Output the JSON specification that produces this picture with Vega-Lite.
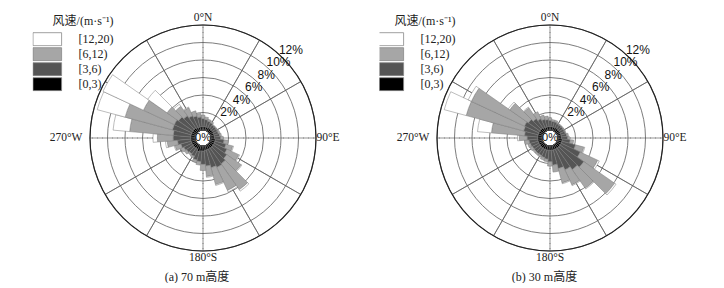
{
"$schema": "https://vega.github.io/schema/vega-lite/v6.json",
"background": "white",
"padding": {"left": 29.5, "top": 11, "right": 0, "bottom": 0},
"spacing": 0,
"config": {"view": {"stroke": null}, "font": "Liberation Serif"},
"datasets": {
"h70": [
{"dir":0,"s1":0.4,"s2":0.9,"s3":0.4,"s4":0},
{"dir":10,"s1":0.4,"s2":0.8,"s3":0.3,"s4":0},
{"dir":20,"s1":0.4,"s2":0.7,"s3":0.2,"s4":0},
{"dir":30,"s1":0.4,"s2":0.6,"s3":0.2,"s4":0},
{"dir":40,"s1":0.4,"s2":0.5,"s3":0.1,"s4":0},
{"dir":50,"s1":0.4,"s2":0.5,"s3":0.1,"s4":0},
{"dir":60,"s1":0.4,"s2":0.5,"s3":0.1,"s4":0},
{"dir":70,"s1":0.4,"s2":0.5,"s3":0.2,"s4":0},
{"dir":80,"s1":0.4,"s2":0.6,"s3":0.2,"s4":0},
{"dir":90,"s1":0.4,"s2":0.7,"s3":0.3,"s4":0},
{"dir":100,"s1":0.5,"s2":1.0,"s3":0.5,"s4":0},
{"dir":110,"s1":0.5,"s2":1.3,"s3":0.8,"s4":0.1},
{"dir":120,"s1":0.5,"s2":1.6,"s3":1.5,"s4":0.1},
{"dir":130,"s1":0.5,"s2":1.9,"s3":2.0,"s4":0.1},
{"dir":140,"s1":0.5,"s2":2.2,"s3":3.6,"s4":0.2},
{"dir":150,"s1":0.5,"s2":2.3,"s3":2.9,"s4":0.2},
{"dir":160,"s1":0.5,"s2":2.1,"s3":2.0,"s4":0.1},
{"dir":170,"s1":0.5,"s2":1.8,"s3":1.2,"s4":0.1},
{"dir":180,"s1":0.6,"s2":1.5,"s3":0.7,"s4":0},
{"dir":190,"s1":0.6,"s2":1.2,"s3":0.4,"s4":0},
{"dir":200,"s1":0.7,"s2":1.0,"s3":0.3,"s4":0},
{"dir":210,"s1":0.5,"s2":0.9,"s3":0.2,"s4":0},
{"dir":220,"s1":0.5,"s2":0.8,"s3":0.2,"s4":0},
{"dir":230,"s1":0.5,"s2":0.9,"s3":0.3,"s4":0},
{"dir":240,"s1":0.5,"s2":1.0,"s3":0.4,"s4":0},
{"dir":250,"s1":0.5,"s2":1.2,"s3":0.7,"s4":0.1},
{"dir":260,"s1":0.5,"s2":1.5,"s3":1.2,"s4":0.2},
{"dir":270,"s1":0.5,"s2":2.0,"s3":1.8,"s4":0.5},
{"dir":280,"s1":0.5,"s2":2.0,"s3":5.0,"s4":1.9},
{"dir":290,"s1":0.5,"s2":2.2,"s3":5.6,"s4":3.3},
{"dir":300,"s1":0.5,"s2":2.2,"s3":3.9,"s4":5.1},
{"dir":310,"s1":0.5,"s2":2.0,"s3":1.6,"s4":2.7},
{"dir":320,"s1":0.5,"s2":1.7,"s3":1.3,"s4":0.3},
{"dir":330,"s1":0.4,"s2":1.5,"s3":1.0,"s4":0.1},
{"dir":340,"s1":0.4,"s2":1.3,"s3":0.6,"s4":0},
{"dir":350,"s1":0.4,"s2":1.1,"s3":0.4,"s4":0}
],
"h30": [
{"dir":0,"s1":0.4,"s2":0.7,"s3":0.3,"s4":0},
{"dir":10,"s1":0.4,"s2":0.6,"s3":0.2,"s4":0},
{"dir":20,"s1":0.4,"s2":0.6,"s3":0.2,"s4":0},
{"dir":30,"s1":0.4,"s2":0.5,"s3":0.1,"s4":0},
{"dir":40,"s1":0.4,"s2":0.5,"s3":0.1,"s4":0},
{"dir":50,"s1":0.4,"s2":0.5,"s3":0.1,"s4":0},
{"dir":60,"s1":0.4,"s2":0.5,"s3":0.1,"s4":0},
{"dir":70,"s1":0.4,"s2":0.5,"s3":0.1,"s4":0},
{"dir":80,"s1":0.4,"s2":0.6,"s3":0.2,"s4":0},
{"dir":90,"s1":0.4,"s2":0.7,"s3":0.2,"s4":0},
{"dir":100,"s1":0.5,"s2":0.9,"s3":0.4,"s4":0},
{"dir":110,"s1":0.5,"s2":1.6,"s3":1.0,"s4":0.1},
{"dir":120,"s1":0.5,"s2":2.4,"s3":2.2,"s4":0.2},
{"dir":130,"s1":0.5,"s2":3.3,"s3":4.3,"s4":0.2},
{"dir":140,"s1":0.5,"s2":3.0,"s3":2.6,"s4":0.1},
{"dir":150,"s1":0.5,"s2":2.6,"s3":1.9,"s4":0.1},
{"dir":160,"s1":0.5,"s2":2.2,"s3":1.7,"s4":0.1},
{"dir":170,"s1":0.5,"s2":1.7,"s3":0.8,"s4":0},
{"dir":180,"s1":0.5,"s2":1.3,"s3":0.5,"s4":0},
{"dir":190,"s1":0.5,"s2":1.0,"s3":0.3,"s4":0},
{"dir":200,"s1":0.5,"s2":0.9,"s3":0.3,"s4":0},
{"dir":210,"s1":0.5,"s2":0.8,"s3":0.2,"s4":0},
{"dir":220,"s1":0.5,"s2":0.8,"s3":0.2,"s4":0},
{"dir":230,"s1":0.5,"s2":0.8,"s3":0.2,"s4":0},
{"dir":240,"s1":0.5,"s2":0.8,"s3":0.3,"s4":0},
{"dir":250,"s1":0.5,"s2":0.9,"s3":0.3,"s4":0},
{"dir":260,"s1":0.5,"s2":1.0,"s3":0.5,"s4":0},
{"dir":270,"s1":0.5,"s2":1.2,"s3":0.9,"s4":0.2},
{"dir":280,"s1":0.5,"s2":1.5,"s3":3.8,"s4":1.6},
{"dir":290,"s1":0.5,"s2":1.7,"s3":6.8,"s4":2.6},
{"dir":300,"s1":0.5,"s2":1.8,"s3":6.7,"s4":0.4},
{"dir":310,"s1":0.5,"s2":1.6,"s3":2.6,"s4":0.2},
{"dir":320,"s1":0.5,"s2":1.3,"s3":1.5,"s4":0.1},
{"dir":330,"s1":0.4,"s2":1.1,"s3":0.9,"s4":0},
{"dir":340,"s1":0.4,"s2":0.9,"s3":0.5,"s4":0},
{"dir":350,"s1":0.4,"s2":0.8,"s3":0.4,"s4":0}
],
"rings": [{"v":2,"t":"2%"},{"v":4,"t":"4%"},{"v":6,"t":"6%"},{"v":8,"t":"8%"},{"v":10,"t":"10%"},{"v":12,"t":"12%"}],
"spokes": [{"a":0},{"a":30},{"a":60},{"a":90},{"a":120},{"a":150},{"a":180},{"a":210},{"a":240},{"a":270},{"a":300},{"a":330}],
"compass": [{"a":0,"t":"0°N"},{"a":90,"t":"90°E"},{"a":180,"t":"180°S"},{"a":270,"t":"270°W"}],
"zero": [{"t":"0%"}]
},
"hconcat": [
{
"width": 347, "height": 250,
"title": {"text": "(a) 70 m高度", "orient": "bottom", "offset": 8, "dx": -6, "font": "Liberation Serif, Noto Sans CJK SC", "fontSize": 12, "fontWeight": "normal", "color": "#222"},
"layer": [
{"data": {"name": "rings"}, "mark": {"type": "arc", "filled": false, "stroke": "#5a5a5a", "strokeWidth": 0.8},
 "encoding": {"theta": {"datum": 0, "type": "quantitative", "scale": {"domain": [0, 360], "nice": false, "zero": false}}, "theta2": {"datum": 360},
  "radius": {"field": "v", "type": "quantitative", "stack": null, "scale": {"type": "linear", "domain": [0, 12], "range": [8, 113], "zero": false, "nice": false}}}},
{"data": {"name": "spokes"}, "transform": [{"filter": "datum.a % 90 != 0"}], "mark": {"type": "arc", "filled": false, "stroke": "#5a5a5a", "strokeWidth": 0.7},
 "encoding": {"theta": {"field": "a", "type": "quantitative", "stack": null}, "theta2": {"field": "a"}, "radius": {"datum": 12, "type": "quantitative"}}},
{"data": {"name": "spokes"}, "transform": [{"filter": "datum.a % 90 == 0"}], "mark": {"type": "arc", "filled": false, "stroke": "#666666", "strokeWidth": 0.7, "strokeDash": [3, 2]},
 "encoding": {"theta": {"field": "a", "type": "quantitative", "stack": null}, "theta2": {"field": "a"}, "radius": {"datum": 12, "type": "quantitative"}}},
{"data": {"name": "rings"}, "transform": [{"filter": "datum.v == 12"}], "mark": {"type": "arc", "filled": false, "stroke": "#222222", "strokeWidth": 1.2},
 "encoding": {"theta": {"datum": 0, "type": "quantitative"}, "theta2": {"datum": 360}, "radius": {"field": "v", "type": "quantitative", "stack": null}}},
{"data": {"name": "zero"}, "mark": {"type": "text", "font": "Liberation Sans", "fontSize": 11, "align": "center", "baseline": "middle", "color": "#111"},
 "encoding": {"theta": {"datum": 0, "type": "quantitative"}, "radius": {"value": 0}, "text": {"field": "t"}}},
{"data": {"name": "h70"},
 "transform": [
  {"fold": ["s1", "s2", "s3", "s4"], "as": ["k", "f"]},
  {"stack": "f", "groupby": ["dir"], "sort": [{"field": "k", "order": "ascending"}], "as": ["r0", "r1"]},
  {"filter": "datum.f > 0"},
  {"bin": {"extent": [-5, 355], "step": 10, "nice": false, "anchor": -5}, "field": "dir", "as": ["d0", "d1"]}
 ],
 "mark": {"type": "arc", "stroke": "#7a7a7a", "strokeWidth": 0.5},
 "encoding": {
  "theta": {"field": "d0", "type": "quantitative", "stack": null},
  "theta2": {"field": "d1"},
  "radius": {"field": "r1", "type": "quantitative", "stack": null},
  "radius2": {"field": "r0"},
  "color": {"field": "k", "type": "nominal",
   "scale": {"domain": ["s4", "s3", "s2", "s1"], "range": ["#ffffff", "#a6a6a6", "#555555", "#000000"]},
   "legend": {"title": "风速/(m·s⁻¹)", "orient": "top-left", "offset": 3,
    "labelExpr": "datum.label == 's4' ? '[12,20)' : datum.label == 's3' ? '[6,12)' : datum.label == 's2' ? '[3,6)' : '[0,3)'",
    "symbolType": "M-2.2,-1H2.2V1H-2.2Z", "symbolSize": 169, "symbolStrokeColor": "#888888", "symbolStrokeWidth": 0.8, "symbolOffset": 7.8,
    "labelFont": "Liberation Serif", "labelFontSize": 12, "labelColor": "#222", "labelOffset": 24.2,
    "titleFont": "Liberation Serif, Noto Sans CJK SC", "titleFontSize": 12, "titleFontWeight": "normal", "titleColor": "#222",
    "titleAnchor": "end", "titlePadding": 4, "rowPadding": 0, "clipHeight": 14.4}}
 }},
{"data": {"name": "rings"}, "mark": {"type": "text", "font": "Liberation Sans", "fontSize": 12, "dx": 8, "dy": -8, "align": "center", "baseline": "middle", "color": "#111"},
 "encoding": {"theta": {"datum": 45, "type": "quantitative"}, "radius": {"field": "v", "type": "quantitative", "stack": null}, "text": {"field": "t"}}},
{"data": {"name": "compass"}, "transform": [{"filter": "datum.a % 180 == 0"}], "mark": {"type": "text", "font": "Liberation Serif", "fontSize": 11.5, "align": "center", "baseline": "middle", "color": "#222"},
 "encoding": {"theta": {"field": "a", "type": "quantitative", "stack": null}, "radius": {"datum": 12.85, "type": "quantitative"}, "text": {"field": "t"}}},
{"data": {"name": "compass"}, "transform": [{"filter": "datum.a == 90"}], "mark": {"type": "text", "font": "Liberation Serif", "fontSize": 11.5, "align": "center", "baseline": "middle", "color": "#222"},
 "encoding": {"theta": {"field": "a", "type": "quantitative", "stack": null}, "radius": {"datum": 13.37, "type": "quantitative"}, "text": {"field": "t"}}},
{"data": {"name": "compass"}, "transform": [{"filter": "datum.a == 270"}], "mark": {"type": "text", "font": "Liberation Serif", "fontSize": 11.5, "align": "center", "baseline": "middle", "color": "#222"},
 "encoding": {"theta": {"field": "a", "type": "quantitative", "stack": null}, "radius": {"datum": 14.74, "type": "quantitative"}, "text": {"field": "t"}}}
]
},
{
"width": 347, "height": 250,
"title": {"text": "(b) 30 m高度", "orient": "bottom", "offset": 8, "dx": -5.5, "font": "Liberation Serif, Noto Sans CJK SC", "fontSize": 12, "fontWeight": "normal", "color": "#222"},
"layer": [
{"data": {"name": "rings"}, "mark": {"type": "arc", "filled": false, "stroke": "#5a5a5a", "strokeWidth": 0.8},
 "encoding": {"theta": {"datum": 0, "type": "quantitative", "scale": {"domain": [0, 360], "nice": false, "zero": false}}, "theta2": {"datum": 360},
  "radius": {"field": "v", "type": "quantitative", "stack": null, "scale": {"type": "linear", "domain": [0, 12], "range": [8, 113], "zero": false, "nice": false}}}},
{"data": {"name": "spokes"}, "transform": [{"filter": "datum.a % 90 != 0"}], "mark": {"type": "arc", "filled": false, "stroke": "#5a5a5a", "strokeWidth": 0.7},
 "encoding": {"theta": {"field": "a", "type": "quantitative", "stack": null}, "theta2": {"field": "a"}, "radius": {"datum": 12, "type": "quantitative"}}},
{"data": {"name": "spokes"}, "transform": [{"filter": "datum.a % 90 == 0"}], "mark": {"type": "arc", "filled": false, "stroke": "#666666", "strokeWidth": 0.7, "strokeDash": [3, 2]},
 "encoding": {"theta": {"field": "a", "type": "quantitative", "stack": null}, "theta2": {"field": "a"}, "radius": {"datum": 12, "type": "quantitative"}}},
{"data": {"name": "rings"}, "transform": [{"filter": "datum.v == 12"}], "mark": {"type": "arc", "filled": false, "stroke": "#222222", "strokeWidth": 1.2},
 "encoding": {"theta": {"datum": 0, "type": "quantitative"}, "theta2": {"datum": 360}, "radius": {"field": "v", "type": "quantitative", "stack": null}}},
{"data": {"name": "zero"}, "mark": {"type": "text", "font": "Liberation Sans", "fontSize": 11, "align": "center", "baseline": "middle", "color": "#111"},
 "encoding": {"theta": {"datum": 0, "type": "quantitative"}, "radius": {"value": 0}, "text": {"field": "t"}}},
{"data": {"name": "h30"},
 "transform": [
  {"fold": ["s1", "s2", "s3", "s4"], "as": ["k", "f"]},
  {"stack": "f", "groupby": ["dir"], "sort": [{"field": "k", "order": "ascending"}], "as": ["r0", "r1"]},
  {"filter": "datum.f > 0"},
  {"bin": {"extent": [-5, 355], "step": 10, "nice": false, "anchor": -5}, "field": "dir", "as": ["d0", "d1"]}
 ],
 "mark": {"type": "arc", "stroke": "#7a7a7a", "strokeWidth": 0.5},
 "encoding": {
  "theta": {"field": "d0", "type": "quantitative", "stack": null},
  "theta2": {"field": "d1"},
  "radius": {"field": "r1", "type": "quantitative", "stack": null},
  "radius2": {"field": "r0"},
  "color": {"field": "k", "type": "nominal",
   "scale": {"domain": ["s4", "s3", "s2", "s1"], "range": ["#ffffff", "#a6a6a6", "#555555", "#000000"]},
   "legend": {"title": "风速/(m·s⁻¹)", "orient": "top-left", "offset": 3,
    "labelExpr": "datum.label == 's4' ? '[12,20)' : datum.label == 's3' ? '[6,12)' : datum.label == 's2' ? '[3,6)' : '[0,3)'",
    "symbolType": "M-2.2,-1H2.2V1H-2.2Z", "symbolSize": 169, "symbolStrokeColor": "#888888", "symbolStrokeWidth": 0.8, "symbolOffset": 2.8,
    "labelFont": "Liberation Serif", "labelFontSize": 12, "labelColor": "#222", "labelOffset": 24.2,
    "titleFont": "Liberation Serif, Noto Sans CJK SC", "titleFontSize": 12, "titleFontWeight": "normal", "titleColor": "#222",
    "titleAnchor": "end", "titlePadding": 4, "rowPadding": 0, "clipHeight": 14.4}}
 }},
{"data": {"name": "rings"}, "mark": {"type": "text", "font": "Liberation Sans", "fontSize": 12, "dx": 8, "dy": -8, "align": "center", "baseline": "middle", "color": "#111"},
 "encoding": {"theta": {"datum": 45, "type": "quantitative"}, "radius": {"field": "v", "type": "quantitative", "stack": null}, "text": {"field": "t"}}},
{"data": {"name": "compass"}, "transform": [{"filter": "datum.a % 180 == 0"}], "mark": {"type": "text", "font": "Liberation Serif", "fontSize": 11.5, "align": "center", "baseline": "middle", "color": "#222"},
 "encoding": {"theta": {"field": "a", "type": "quantitative", "stack": null}, "radius": {"datum": 12.85, "type": "quantitative"}, "text": {"field": "t"}}},
{"data": {"name": "compass"}, "transform": [{"filter": "datum.a == 90"}], "mark": {"type": "text", "font": "Liberation Serif", "fontSize": 11.5, "align": "center", "baseline": "middle", "color": "#222"},
 "encoding": {"theta": {"field": "a", "type": "quantitative", "stack": null}, "radius": {"datum": 13.37, "type": "quantitative"}, "text": {"field": "t"}}},
{"data": {"name": "compass"}, "transform": [{"filter": "datum.a == 270"}], "mark": {"type": "text", "font": "Liberation Serif", "fontSize": 11.5, "align": "center", "baseline": "middle", "color": "#222"},
 "encoding": {"theta": {"field": "a", "type": "quantitative", "stack": null}, "radius": {"datum": 14.74, "type": "quantitative"}, "text": {"field": "t"}}}
]
}
],
"resolve": {"scale": {"color": "independent", "theta": "independent", "radius": "independent"}, "legend": {"color": "independent"}}
}
